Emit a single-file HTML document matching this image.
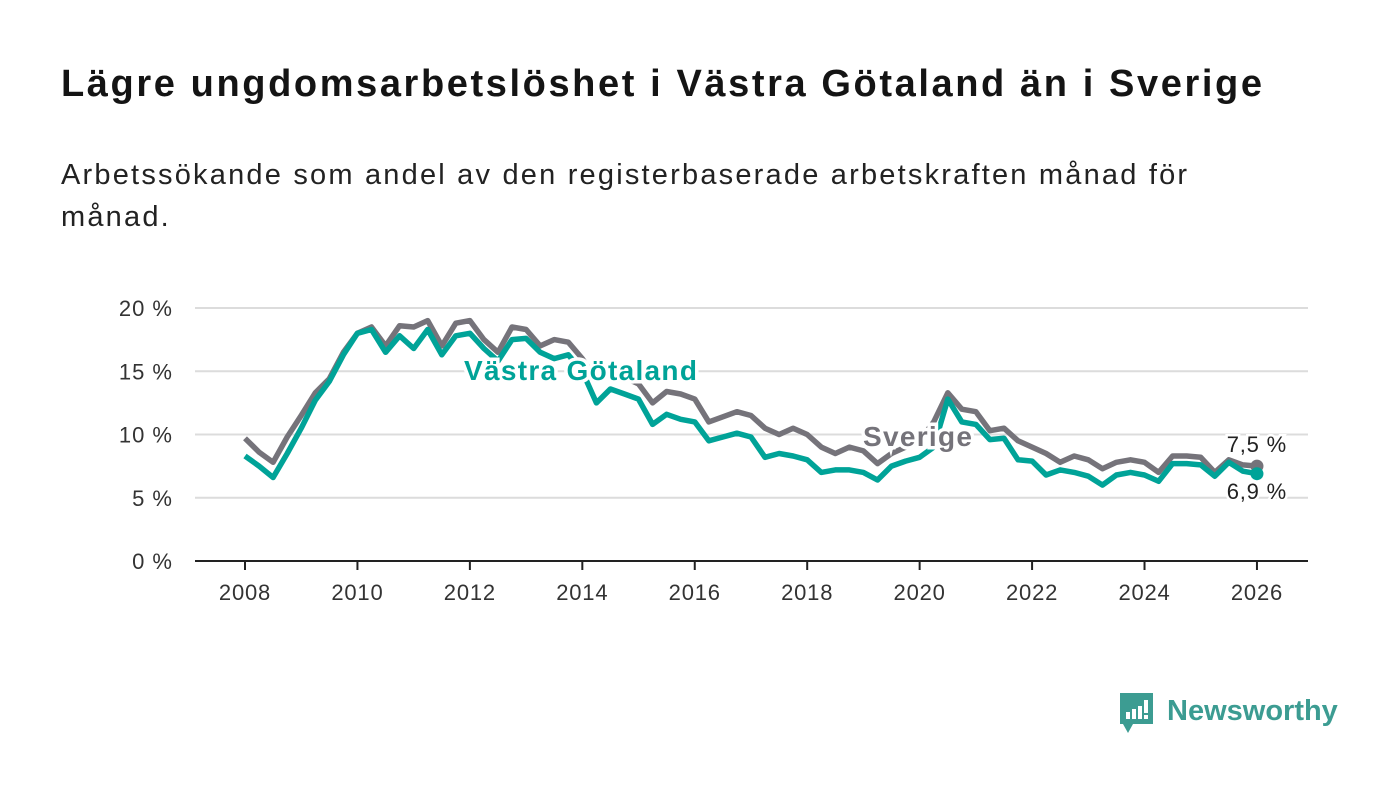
<!DOCTYPE html>
<html><head><meta charset="utf-8">
<style>
body{margin:0;background:#fff;width:1400px;height:794px;overflow:hidden;font-family:"Liberation Sans",sans-serif;}
#title{position:absolute;left:61px;top:63px;font-size:38px;font-weight:bold;color:#141414;margin:0;letter-spacing:2.6px;white-space:nowrap}
#sub{position:absolute;left:61px;top:154px;font-size:29px;color:#222;line-height:42px;width:1185px;margin:0;letter-spacing:2.2px}
svg{position:absolute;left:0;top:0}
</style></head><body>
<h1 id="title">Lägre ungdomsarbetslöshet i Västra Götaland än i Sverige</h1>
<p id="sub">Arbetssökande som andel av den registerbaserade arbetskraften månad för månad.</p>
<svg id="chart" width="1400" height="794"></svg>
<script>
const startYear = 2008;
const step = 0.25;
const sverige = [9.7,8.6,7.8,9.8, 11.5,13.3,14.4,16.5, 18.0,18.5,17.0,18.6, 18.5,19.0,17.0,18.8, 19.0,17.5,16.5,18.5, 18.3,17.0,17.5,17.3, 16.0,14.3,15.0,14.5, 14.0,12.5,13.4,13.2, 12.8,11.0,11.4,11.8, 11.5,10.5,10.0,10.5, 10.0,9.0,8.5,9.0, 8.7,7.7,8.5,9.0, 9.5,11.0,13.3,12.0, 11.8,10.3,10.5,9.5, 9.0,8.5,7.8,8.3, 8.0,7.3,7.8,8.0, 7.8,7.0,8.3,8.3, 8.2,7.0,8.0,7.6, 7.5];
const vastra = [8.3,7.5,6.6,8.5, 10.5,12.7,14.2,16.3, 18.0,18.3,16.5,17.8, 16.8,18.3,16.3,17.8, 18.0,16.8,15.8,17.5, 17.6,16.5,16.0,16.3, 15.0,12.5,13.6,13.2, 12.8,10.8,11.6,11.2, 11.0,9.5,9.8,10.1, 9.8,8.2,8.5,8.3, 8.0,7.0,7.2,7.2, 7.0,6.4,7.5,7.9, 8.2,9.0,12.8,11.0, 10.8,9.6,9.7,8.0, 7.9,6.8,7.2,7.0, 6.7,6.0,6.8,7.0, 6.8,6.3,7.7,7.7, 7.6,6.7,7.8,7.1, 6.9];
const yTicks = [0,5,10,15,20];
const yTickLabels = ["0 %","5 %","10 %","15 %","20 %"];
const xTicks = [2008,2010,2012,2014,2016,2018,2020,2022,2024,2026];

const x = t => 245 + (t - 2008) * 56.22;
const y = v => 561 - v * 12.65;
const svg = document.getElementById('chart');
const NS = 'http://www.w3.org/2000/svg';
function mk(tag, attrs, parent){const e=document.createElementNS(NS,tag);for(const k in attrs)e.setAttribute(k,attrs[k]);(parent||svg).appendChild(e);return e;}

yTicks.forEach((v,i)=>{
  if(v>0){const g=mk('line',{x1:195,x2:1308,y1:y(v),y2:y(v),stroke:'#dcdcdc','stroke-width':2});
  
  }
  const t=mk('text',{x:173,y:y(v)+8,'text-anchor':'end','font-size':22,'letter-spacing':1,fill:'#333','font-family':'Liberation Sans, sans-serif'});
  t.textContent=yTickLabels[i];
  
  
});
const ax=mk('line',{x1:195,x2:1308,y1:561,y2:561,stroke:'#222','stroke-width':2});


xTicks.forEach(yr=>{
  const tk=mk('line',{x1:x(yr),x2:x(yr),y1:561,y2:570,stroke:'#222','stroke-width':2});
  
  
  const t=mk('text',{x:x(yr),y:600,'text-anchor':'middle','font-size':22,'letter-spacing':0.8,fill:'#333','font-family':'Liberation Sans, sans-serif'});
  t.textContent=yr;
  
  
});
function line(data,color,name){
  const d=data.map((v,i)=>(i?'L':'M')+x(startYear+i*step).toFixed(1)+','+y(v).toFixed(1)).join('');
  const p=mk('path',{d:d,fill:'none',stroke:color,'stroke-width':5.5,'stroke-linejoin':'round'});
  
  
  const n=data.length-1;
  const c=mk('circle',{cx:x(startYear+n*step),cy:y(data[n]),r:6.5,fill:color});
  
  
}
line(sverige,'#75737a','sverige-line');
line(vastra,'#00a398','vastra-gotaland-line');
function label(txt,lx,ly,color,name,bold,anchor){
  const t=mk('text',{x:lx,y:ly,'font-size':bold?28:22,'letter-spacing':bold?1.3:0.8,'font-weight':bold?'bold':'normal',fill:color,stroke:'#fff','stroke-width':bold?7:5,'paint-order':'stroke','text-anchor':anchor||'start','font-family':'Liberation Sans, sans-serif'});
  t.textContent=txt;
  
  
}
label('Västra Götaland',464,380,'#00a398','vastra-gotaland-label',true);
label('Sverige',863,446,'#75737a','sverige-label',true);
label('7,5 %',1287,452,'#222','sverige-end-value',false,'end');
label('6,9 %',1287,499,'#222','vastra-end-value',false,'end');

const lg=mk('g',{});


mk('path',{d:'M1120,693 h33 v31 h-20 l-5,9 l-5,-9 h-3 z',fill:'#3c9c92'},lg);
mk('rect',{x:1126,y:712,width:4,height:7,fill:'#fff'},lg);
mk('rect',{x:1132,y:709,width:4,height:10,fill:'#fff'},lg);
mk('rect',{x:1138,y:706,width:4,height:13,fill:'#fff'},lg);
mk('rect',{x:1144,y:700,width:4,height:13,fill:'#fff'},lg);
mk('rect',{x:1144,y:715,width:4,height:4,fill:'#fff'},lg);
const lt=mk('text',{x:1167,y:720,'font-size':29,'font-weight':'bold',fill:'#3c9c92','font-family':'Liberation Sans, sans-serif'},lg);
lt.textContent='Newsworthy';
</script>
</body></html>
